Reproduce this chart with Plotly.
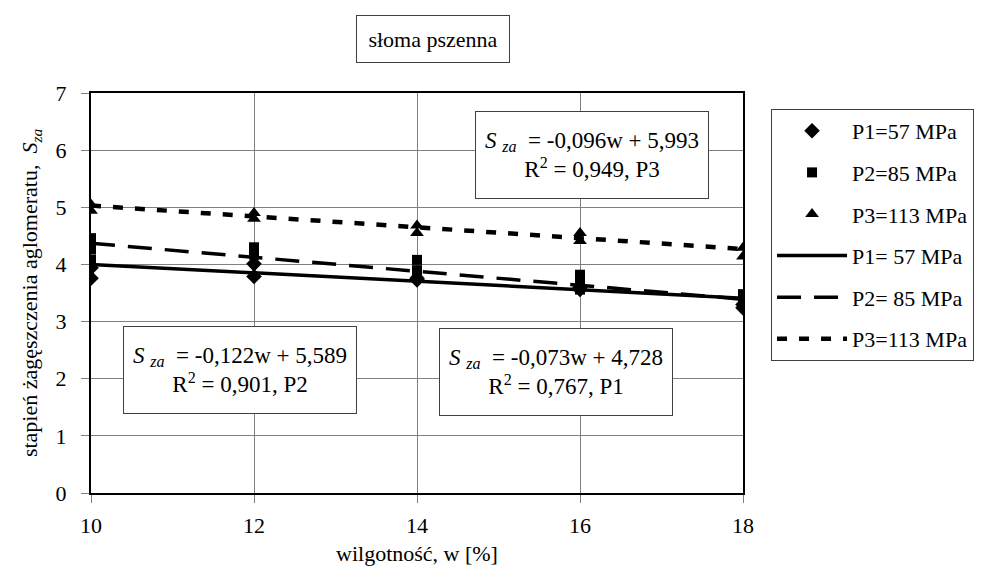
import plotly.graph_objects as go

# ---- data ----
p1_w = [10, 10, 12, 12, 14, 14, 16, 16, 18, 18]
p1_s = [3.94, 3.76, 4.01, 3.79, 3.76, 3.73, 3.60, 3.56, 3.30, 3.24]

p2_w = [10, 10, 10, 12, 12, 14, 14, 16, 16, 16, 18, 18]
p2_s = [4.46, 4.26, 4.08, 4.30, 4.17, 4.08, 3.90, 3.82, 3.70, 3.56, 3.48, 3.35]

p3_w = [10, 10, 12, 12, 14, 14, 16, 16, 18, 18]
p3_s = [5.05, 4.94, 4.90, 4.80, 4.68, 4.55, 4.55, 4.41, 4.29, 4.14]

trend_w = [10, 18]
trend_p1 = [4.00, 3.41]
trend_p2 = [4.37, 3.39]
trend_p3 = [5.03, 4.27]

x_ticks = [10, 12, 14, 16, 18]
y_ticks = [0, 1, 2, 3, 4, 5, 6, 7]

marker_names = ["P1=57 MPa", "P2=85 MPa", "P3=113 MPa"]
line_names = ["P1= 57 MPa", "P2= 85 MPa", "P3=113 MPa"]

eq_texts = [
    "<i>S</i> <sub><i>za</i></sub>  = -0,096w + 5,993<br>R<sup>2</sup> = 0,949, P3",
    "<i>S</i> <sub><i>za</i></sub>  = -0,122w + 5,589<br>R<sup>2</sup> = 0,901, P2",
    "<i>S</i> <sub><i>za</i></sub>  = -0,073w + 4,728<br>R<sup>2</sup> = 0,767, P1",
]

FONT = "Liberation Serif, Times New Roman, serif"

fig = go.Figure()
fig.add_trace(go.Scatter(x=p1_w, y=p1_s, mode="markers", name=marker_names[0],
                         legendgroup="a",
                         marker=dict(symbol="diamond", size=12, color="black")))
fig.add_trace(go.Scatter(x=p2_w, y=p2_s, mode="markers", name=marker_names[1],
                         legendgroup="b",
                         marker=dict(symbol="square", size=10, color="black")))
fig.add_trace(go.Scatter(x=p3_w, y=p3_s, mode="markers", name=marker_names[2],
                         legendgroup="c",
                         marker=dict(symbol="triangle-up", size=12, color="black")))
fig.add_trace(go.Scatter(x=trend_w, y=trend_p1, mode="lines", name=line_names[0],
                         legendgroup="d",
                         line=dict(color="black", width=3.5)))
fig.add_trace(go.Scatter(x=trend_w, y=trend_p2, mode="lines", name=line_names[1],
                         legendgroup="e",
                         line=dict(color="black", width=3.5, dash="24px,13px")))
fig.add_trace(go.Scatter(x=trend_w, y=trend_p3, mode="lines", name=line_names[2],
                         legendgroup="f",
                         line=dict(color="black", width=4.5, dash="10px,12px")))

ann_common = dict(showarrow=False, bordercolor="#404040", borderwidth=1,
                  bgcolor="white", font=dict(family=FONT, size=23, color="black"),
                  width=228, height=82, borderpad=2, align="center",
                  xanchor="center", yanchor="middle")

fig.add_annotation(x=16.147, y=5.915, xref="x", yref="y", text=eq_texts[0], **ann_common)
fig.add_annotation(x=11.83, y=2.152, xref="x", yref="y", text=eq_texts[1], **ann_common)
fig.add_annotation(x=15.705, y=2.11, xref="x", yref="y", text=eq_texts[2], **ann_common)

fig.add_annotation(x=0.5245, y=1.135, xref="paper", yref="paper", showarrow=False,
                   xanchor="center", yanchor="middle",
                   text="słoma pszenna", bordercolor="#404040", borderwidth=1,
                   bgcolor="white", width=150, height=44, borderpad=1,
                   font=dict(family=FONT, size=22, color="black"))

fig.update_layout(
    width=987, height=566,
    margin=dict(l=83, r=252, t=85, b=81),
    paper_bgcolor="white", plot_bgcolor="white",
    font=dict(family=FONT, size=22, color="black"),
    showlegend=True,
    legend=dict(x=1.043, y=0.96, xanchor="left", yanchor="top",
                bordercolor="#404040", borderwidth=1, bgcolor="white",
                font=dict(family=FONT, size=22, color="black"),
                traceorder="grouped", tracegroupgap=10,
                itemwidth=70),
)

fig.update_xaxes(range=[10, 18], tickvals=x_ticks, ticktext=[str(v) for v in x_ticks],
                 showgrid=True, gridcolor="#808080", gridwidth=1,
                 showline=True, linecolor="black", linewidth=2, mirror=True,
                 ticks="outside", ticklen=8, tickcolor="#808080",
                 zeroline=False, ticklabelstandoff=4,
                 title=dict(text="wilgotność, w [%]", font=dict(family=FONT, size=22),
                            standoff=8),
                 tickfont=dict(family=FONT, size=22))
fig.update_yaxes(range=[0, 7], tickvals=y_ticks,
                 showgrid=True, gridcolor="#808080", gridwidth=1,
                 showline=True, linecolor="black", linewidth=2, mirror=True,
                 ticks="outside", ticklen=8, tickcolor="#808080",
                 zeroline=False, ticklabelstandoff=10,
                 title=dict(text="stapień żagęszczenia aglomeratu,  <i>S<sub>za</sub></i>",
                            font=dict(family=FONT, size=22), standoff=12),
                 tickfont=dict(family=FONT, size=22))

fig.write_html("out.html")
